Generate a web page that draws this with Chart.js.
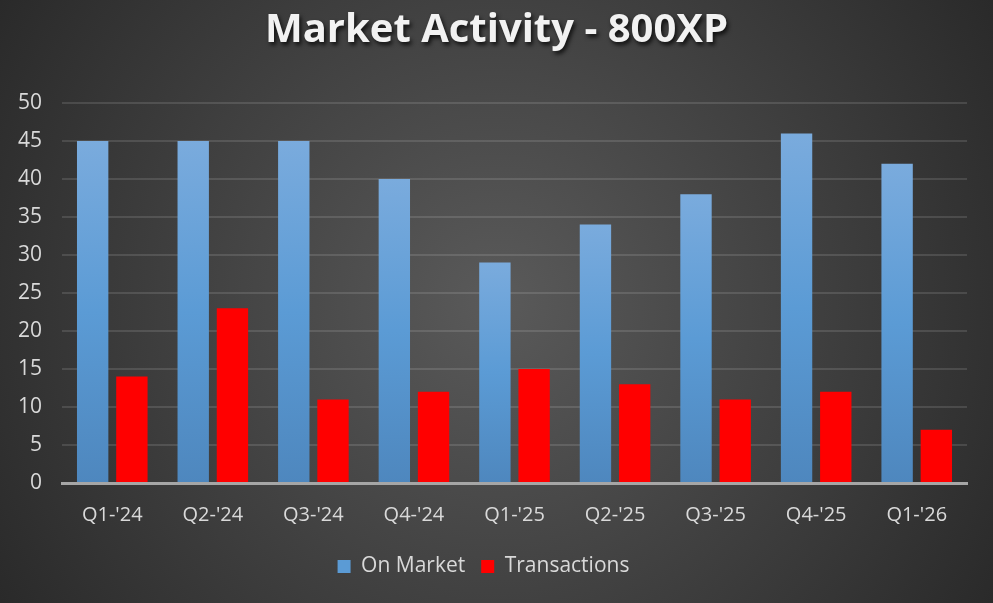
<!DOCTYPE html>
<html>
<head>
<meta charset="utf-8">
<script src="https://cdn.jsdelivr.net/npm/chart.js@4/dist/chart.umd.min.js"></script>
<style>
  html, body { margin: 0; padding: 0; background: #404040; }
  #wrap { width: 993px; height: 603px; }
</style>
</head>
<body>
<div id="wrap"><canvas id="activityChart" width="993" height="603"></canvas></div>
<script>
// Data
const titleText = 'Market Activity - 800XP';
const quarters = ["Q1-'24", "Q2-'24", "Q3-'24", "Q4-'24", "Q1-'25", "Q2-'25", "Q3-'25", "Q4-'25", "Q1-'26"];
const onMarket = [45, 45, 45, 40, 29, 34, 38, 46, 42];
const transactions = [14, 23, 11, 12, 15, 13, 11, 12, 7];
const yTicks = [0, 5, 10, 15, 20, 25, 30, 35, 40, 45, 50];

const FONT = "'Open Sans', 'Liberation Sans', sans-serif";
const TEXT = '#d9d9d9';

// dark radial background, like the Excel chart style
const backdrop = {
  id: 'backdrop',
  beforeDraw(chart) {
    const { ctx, width, height } = chart;
    const g = ctx.createRadialGradient(width / 2, height / 2, 0, width / 2, height / 2, width * 0.62);
    g.addColorStop(0, '#5a5a5a');
    g.addColorStop(1, '#272727');
    ctx.save();
    ctx.fillStyle = g;
    ctx.fillRect(0, 0, width, height);
    ctx.restore();
  }
};

// title with a soft drop shadow
const shadowTitle = {
  id: 'shadowTitle',
  afterDraw(chart) {
    const { ctx, width } = chart;
    ctx.save();
    ctx.font = "bold 40px " + FONT;
    ctx.textAlign = 'center';
    ctx.textBaseline = 'middle';
    ctx.shadowColor = 'rgba(0,0,0,0.75)';
    ctx.shadowOffsetX = 2;
    ctx.shadowOffsetY = 3;
    ctx.shadowBlur = 4;
    ctx.fillStyle = '#f2f2f2';
    ctx.fillText(titleText, width / 2, 31);
    ctx.restore();
  }
};

// each blue bar gets its own top-to-bottom gradient
const blueFill = (c) => {
  const chart = c.chart;
  if (!chart.chartArea || c.type !== 'data') return '#5b9bd5';
  const y = chart.scales.y;
  const top = y.getPixelForValue(c.parsed.y);
  const base = y.getPixelForValue(0);
  if (!isFinite(top) || top === base) return '#5b9bd5';
  const g = chart.ctx.createLinearGradient(0, top, 0, base);
  g.addColorStop(0, '#7aabdd');
  g.addColorStop(0.5, '#5b9bd5');
  g.addColorStop(1, '#4e87be');
  return g;
};

new Chart(document.getElementById('activityChart'), {
  type: 'bar',
  data: {
    labels: quarters,
    datasets: [
      { label: 'On Market', data: onMarket, backgroundColor: blueFill, borderWidth: 0,
        barPercentage: 0.8, categoryPercentage: 0.78 },
      { label: 'Transactions', data: transactions, backgroundColor: '#ff0000', borderWidth: 0,
        barPercentage: 0.8, categoryPercentage: 0.78 }
    ]
  },
  options: {
    responsive: false,
    animation: false,
    layout: { padding: { top: 103, right: 26, bottom: 16, left: 0 } },
    plugins: {
      title: { display: false },
      tooltip: { enabled: false },
      legend: {
        position: 'bottom',
        labels: {
          color: TEXT,
          font: { family: FONT, size: 21 },
          boxWidth: 13,
          boxHeight: 13,
          padding: 16,
          generateLabels(chart) {
            const items = Chart.defaults.plugins.legend.labels.generateLabels(chart);
            items[0].fillStyle = '#5b9bd5';
            items.forEach(i => { i.lineWidth = 0; i.strokeStyle = 'transparent'; });
            return items;
          }
        }
      }
    },
    scales: {
      x: {
        grid: { display: false },
        border: { display: true, color: '#a6a6a6', width: 3 },
        ticks: { color: TEXT, font: { family: FONT, size: 20 }, padding: 12 },
        afterFit(s) { s.height = 57; }
      },
      y: {
        min: 0,
        max: 50,
        afterBuildTicks(s) { s.ticks = yTicks.map(v => ({ value: v })); },
        grid: { color: 'rgba(255,255,255,0.12)', lineWidth: 2, drawTicks: false },
        border: { display: false },
        ticks: { color: TEXT, font: { family: FONT, size: 21 }, padding: 20 },
        afterFit(s) { s.width = 62; }
      }
    }
  },
  plugins: [backdrop, shadowTitle]
});
</script>
</body>
</html>
